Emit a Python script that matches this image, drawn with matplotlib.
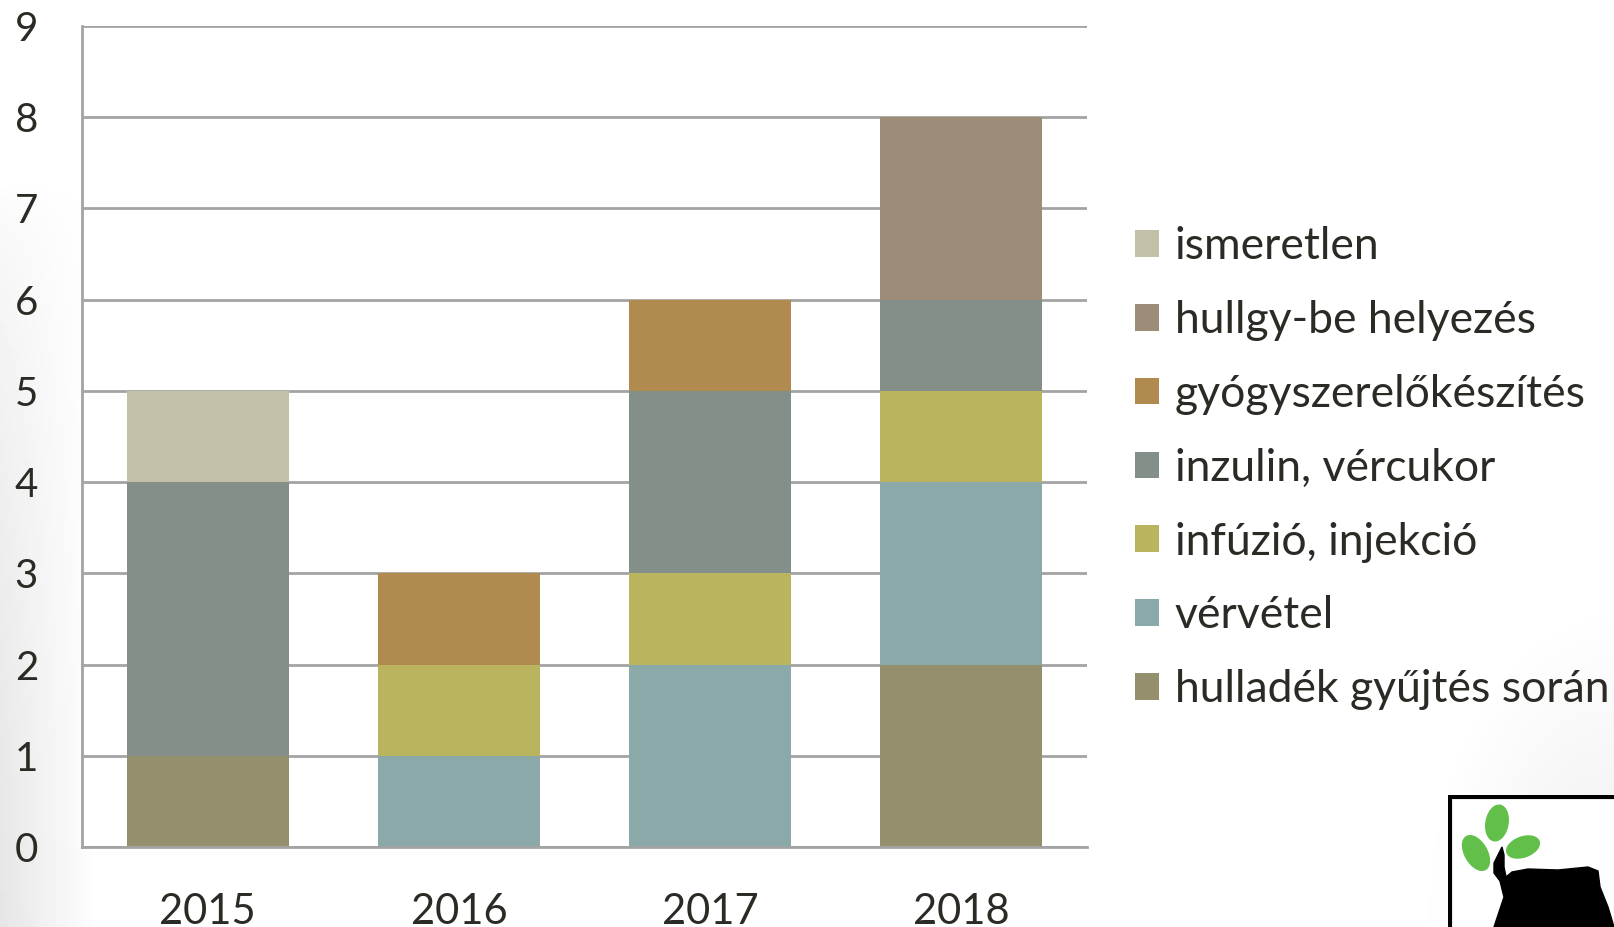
import numpy as np
import matplotlib

matplotlib.use("Agg")
import matplotlib.pyplot as plt
from matplotlib.patches import Ellipse, Polygon, Rectangle

years = ["2015", "2016", "2017", "2018"]

# sorozatok alulról felfelé
series_names = [
    "hulladék gyűjtés során",
    "vérvétel",
    "infúzió, injekció",
    "inzulin, vércukor",
    "gyógyszerelőkészítés",
    "hullgy-be helyezés",
    "ismeretlen",
]
hulladek = [1, 0, 0, 2]
vervetel = [0, 1, 2, 2]
infuzio = [0, 1, 1, 1]
inzulin = [3, 0, 2, 1]
gyogyszer = [0, 1, 1, 0]
hullgy = [0, 0, 0, 2]
ismeretlen = [1, 0, 0, 0]
series_values = [hulladek, vervetel, infuzio, inzulin, gyogyszer, hullgy, ismeretlen]

colors = ["#948F6C", "#8BA9A9", "#BBB45E", "#848F89", "#B08A4F", "#9C8C78", "#C2C0A8"]
y_ticks = list(range(10))

text_color = "#2B2A24"
grid_color = "#A3A3A3"
plt.rcParams["font.family"] = ["Lato", "DejaVu Sans"]

fig = plt.figure(figsize=(16.14, 9.27), dpi=100)

# halvány szürke háttér-átmenet a bal szélén és jobb alsó sarokban
bg = fig.add_axes([0, 0, 1, 1], zorder=-10)
gx, gy = np.meshgrid(np.linspace(0, 1, 400), np.linspace(0, 1, 240))
shade = 0.10 * np.clip(1 - gx / 0.06, 0, 1) * np.clip(1 - gy / 0.8, 0, 1) ** 0.5
shade += 0.07 * np.clip(1 - np.hypot((1 - gx) / 0.12, gy / 0.35), 0, 1)
bg.imshow(1 - shade, cmap="gray", vmin=0, vmax=1, origin="lower",
          extent=[0, 1, 0, 1], aspect="auto")
bg.set_axis_off()

ax = fig.add_axes([0.0508, 0.0863, 0.6227, 0.8857])
ax.set_facecolor("white")
x = np.arange(len(years))
bottom = np.zeros(len(years))
handles = []
for name, values, color in zip(series_names, series_values, colors):
    bars = ax.bar(x, values, width=0.645, bottom=bottom, color=color,
                  label=name, zorder=3)
    handles.append(bars)
    bottom += np.array(values)

ax.set_xlim(-0.5, len(years) - 0.5)
ax.set_ylim(0, 9)
ax.set_yticks(y_ticks)
ax.set_xticks(x)
ax.set_xticklabels(years)
ax.yaxis.grid(True, color=grid_color, linewidth=2, zorder=1)
ax.tick_params(length=0, labelsize=29, colors=text_color)
ax.tick_params(axis="y", pad=40)
ax.tick_params(axis="x", labelsize=30, pad=33)
for label in ax.get_yticklabels():
    label.set_horizontalalignment("center")
for side in ("top", "right"):
    ax.spines[side].set_visible(False)
for side in ("left", "bottom"):
    ax.spines[side].set_color(grid_color)
    ax.spines[side].set_linewidth(2)
ax.spines["bottom"].set_zorder(4)

leg = ax.legend(
    handles[::-1],
    series_names[::-1],
    loc="upper left",
    bbox_to_anchor=(1.03, 0.778),
    frameon=False,
    fontsize=32,
    handlelength=0.55,
    handleheight=0.55,
    handletextpad=0.35,
    labelspacing=0.74,
    borderaxespad=0,
)
for t in leg.get_texts():
    t.set_color(text_color)

# logó a jobb alsó sarokban
logo = fig.add_axes([1448 / 1614, 0, 166 / 1614, 132 / 927])
logo.set_xlim(0, 166)
logo.set_ylim(0, 132)
logo.set_axis_off()
logo.add_patch(Rectangle((2, -10), 200, 140, facecolor="white",
                         edgecolor="black", linewidth=3))
leaf = "#62C04A"
logo.add_patch(Ellipse((49, 104), 22, 36, angle=-10, color=leaf))
logo.add_patch(Ellipse((28, 74), 22, 38, angle=30, color=leaf))
logo.add_patch(Ellipse((75, 80), 20, 34, angle=-70, color=leaf))
logo.add_patch(Polygon(
    [(54, 80), (50, 72), (46, 64), (46, 54), (52, 46), (56, 30), (46, 0),
     (166, 0), (160, 20), (152, 40), (150, 56), (140, 60), (110, 57),
     (80, 58), (64, 55), (58, 50), (56, 60), (56, 72)],
    closed=True, color="black"))

fig.savefig("out.png", dpi=100)
